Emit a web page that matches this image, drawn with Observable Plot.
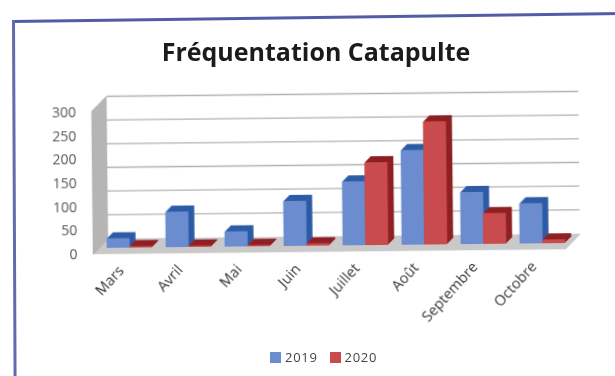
<!DOCTYPE html>
<html><head><meta charset="utf-8">
<script src="https://cdn.jsdelivr.net/npm/d3@7"></script>
<script src="https://cdn.jsdelivr.net/npm/@observablehq/plot@0.6"></script>
<style>
html,body{margin:0;padding:0;background:#fff;overflow:hidden}
#page{position:relative;width:615px;height:376px;overflow:hidden;font-family:"Open Sans",sans-serif}
#borderTop{position:absolute;left:12px;top:20px;width:640px;height:3px;background:#535ca6;transform:rotate(-0.75deg);transform-origin:0 0;filter:blur(.6px)}
#borderLeft{position:absolute;left:12px;top:20px;width:3px;height:370px;background:#616aae;transform:rotate(-0.25deg);transform-origin:0 0;filter:blur(.6px)}
#title{position:absolute;left:0;width:632px;top:34px;text-align:center;font-size:25px;font-weight:700;color:#1b1b1b;filter:blur(.5px)}
#chart{position:absolute;left:0;top:0}
#chart svg{transform:rotate(-0.6deg);transform-origin:93px 253px;filter:blur(.55px)}
#legend{position:absolute;left:270px;top:348px;font-size:13px;color:#444;display:flex;align-items:center;filter:blur(.5px)}
#legend i{display:inline-block;width:11px;height:11px;margin-right:4px}
#legend span{margin-right:12px;letter-spacing:.7px}
</style></head>
<body><div id="page"><div id="borderTop"></div><div id="borderLeft"></div><div id="title"></div><div id="chart"></div><div id="legend"></div></div>
<script>
const title = "Fréquentation Catapulte";
const months = ["Mars","Avril","Mai","Juin","Juillet","Août","Septembre","Octobre"];
const values2019 = [20,75,32,95,135,200,110,85];
const values2020 = [3,3,3,5,175,260,65,8];
const yTicks = [0,50,100,150,200,250,300];
const seriesNames = ["2019","2020"];
const colors = {front:["#6b8dcf","#c94b4e"], side:["#2d5ca6","#8e2024"], top:["#3f6dba","#a8292d"]};

const series = [values2019, values2020].map((vals,s)=>months.map((m,i)=>({month:m,value:vals[i],s})));
const range = n => d3.range(1,n+1);
const wallDepth = 15, barDepth = 6, baseX = 7, baseY = 5, barOff = 11.3;

const wall = range(wallDepth).map(k=>Plot.frame({anchor:"left",stroke:"#b5b5b5",strokeWidth:1.5,dx:k-1,dy:-(k-1)}));
const floor = range(wallDepth).map(k=>Plot.frame({anchor:"bottom",stroke:"#c9c9c9",strokeWidth:1.5,dx:k-1,dy:-(k-1)}));
const grid = Plot.ruleY(yTicks.slice(1),{y:d=>d,stroke:"#b2b2b2",strokeWidth:1.3,dx:wallDepth,dy:-wallDepth});

const barOpts = (s,dk)=>({x:"month",y:"value",insetLeft:18,insetRight:18,dx:baseX+(s?barOff:-barOff)+dk,dy:-baseY-dk});
const bars = series.flatMap((data,s)=>{
  const extr = range(barDepth).flatMap(k=>[
    Plot.barY(data,{...barOpts(s,barDepth+1-k),fill:colors.side[s]}),
    Plot.barY(data,{...barOpts(s,barDepth+1-k),y1:"value",y2:"value",stroke:colors.top[s],strokeWidth:1.4})
  ]);
  return [...extr, Plot.barY(data,{...barOpts(s,0),fill:colors.front[s]})];
});

const chart = Plot.plot({
  width:615,height:376,marginLeft:93,marginRight:50,marginTop:111,marginBottom:123,
  style:{background:"transparent",fontFamily:"'Open Sans',sans-serif",color:"#333",overflow:"visible"},
  x:{domain:months,padding:0,label:null,axis:null},
  y:{domain:[0,300],label:null,axis:null},
  marks:[
    ...floor,...wall,grid,
    ...bars,
    Plot.axisY({ticks:yTicks,tickSize:0,tickPadding:16,dy:1,label:null,fontSize:14,fill:"#555"}),
    Plot.axisX(months,{tickSize:0,tickPadding:15,tickRotate:-47,label:null,fontSize:14.5,dx:-2})
  ]
});
document.getElementById("chart").append(chart);
document.getElementById("title").textContent = title;
const lg = document.getElementById("legend");
seriesNames.forEach((n,i)=>{
  const sw=document.createElement("i");sw.style.background=colors.front[i];
  const t=document.createElement("span");t.textContent=n;
  lg.append(sw,t);
});
</script></body></html>
